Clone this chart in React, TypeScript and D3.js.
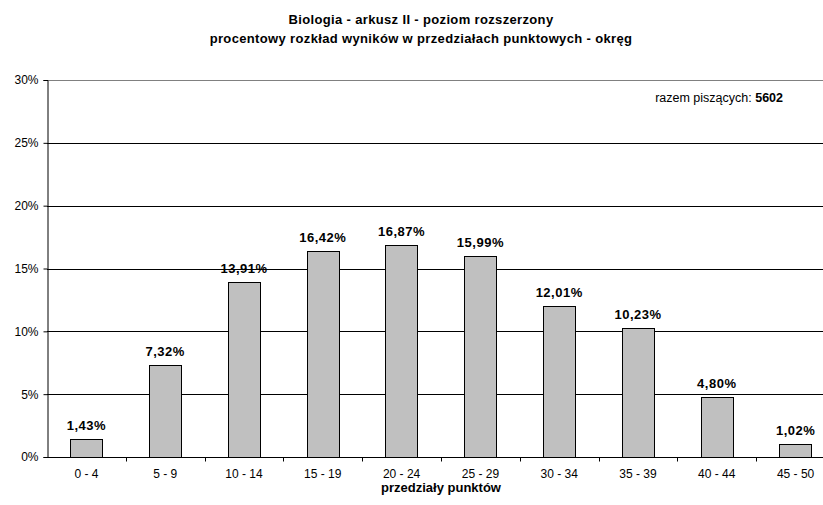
import React, { useRef, useEffect } from "react";
import * as d3 from "d3";

const WIDTH = 823;
const HEIGHT = 505;
const MARGIN = { top: 80, right: -12, bottom: 48, left: 47 };

const categories = ["0 - 4", "5 - 9", "10 - 14", "15 - 19", "20 - 24", "25 - 29", "30 - 34", "35 - 39", "40 - 44", "45 - 50"];
const values = [1.43, 7.32, 13.91, 16.42, 16.87, 15.99, 12.01, 10.23, 4.8, 1.02];
const yTicks = [0, 5, 10, 15, 20, 25, 30];
const titleLines = [
  "Biologia - arkusz II - poziom rozszerzony",
  "procentowy rozkład wyników w przedziałach punktowych - okręg",
];
const FONT = "'Liberation Sans', Arial, sans-serif";

export default function App() {
  const svgRef = useRef<SVGSVGElement | null>(null);

  useEffect(() => {
    const svg = d3.select(svgRef.current);
    svg.selectAll("*").remove();

    const x = d3
      .scaleBand<string>()
      .domain(categories)
      .range([MARGIN.left, WIDTH - MARGIN.right])
      .paddingInner(0.59)
      .paddingOuter(0.295);
    const xOuter = d3
      .scaleBand<string>()
      .domain(categories)
      .range([MARGIN.left, WIDTH - MARGIN.right]);
    const y = d3
      .scaleLinear()
      .domain([0, 30])
      .range([HEIGHT - MARGIN.bottom, MARGIN.top]);

    // title
    svg
      .append("g")
      .selectAll("text")
      .data(titleLines)
      .enter()
      .append("text")
      .attr("x", 421)
      .attr("y", (d, i) => 24 + i * 19)
      .attr("text-anchor", "middle")
      .attr("font-family", FONT)
      .attr("font-weight", "bold")
      .attr("font-size", 13)
      .attr("letter-spacing", 0.35)
      .text((d) => d);

    // gridlines
    svg
      .append("g")
      .selectAll("line")
      .data(yTicks.slice(1))
      .enter()
      .append("line")
      .attr("x1", MARGIN.left)
      .attr("x2", WIDTH)
      .attr("y1", (d) => Math.round(y(d)) + 0.5)
      .attr("y2", (d) => Math.round(y(d)) + 0.5)
      .attr("stroke", (d) => (d === 30 ? "#808080" : "#000"))
      .attr("stroke-width", 1);

    // y axis
    const yAxis = svg
      .append("g")
      .attr("transform", `translate(${MARGIN.left + 0.5},0)`)
      .call(
        d3
          .axisLeft(y)
          .tickValues(yTicks)
          .tickSize(4)
          .tickPadding(5)
          .tickFormat((d) => `${d}%`)
      );
    yAxis.select(".domain").attr("stroke", "#000");
    yAxis.selectAll("text").attr("font-family", FONT).attr("font-size", 12).attr("fill", "#000");

    // x axis
    const xAxis = svg
      .append("g")
      .attr("transform", `translate(0,${Math.round(y(0)) + 0.5})`);
    xAxis
      .append("line")
      .attr("x1", MARGIN.left)
      .attr("x2", WIDTH)
      .attr("stroke", "#000");
    xAxis
      .selectAll(".tick")
      .data(categories.slice(1))
      .enter()
      .append("line")
      .attr("x1", (d) => Math.round(xOuter(d)!) + 0.5)
      .attr("x2", (d) => Math.round(xOuter(d)!) + 0.5)
      .attr("y1", 0)
      .attr("y2", 4)
      .attr("stroke", "#000");
    xAxis
      .selectAll(".lbl")
      .data(categories)
      .enter()
      .append("text")
      .attr("x", (d) => xOuter(d)! + xOuter.bandwidth() / 2)
      .attr("y", 20)
      .attr("text-anchor", "middle")
      .attr("font-family", FONT)
      .attr("font-size", 12)
      .text((d) => d);

    // bars
    svg
      .append("g")
      .selectAll("rect")
      .data(values)
      .enter()
      .append("rect")
      .attr("x", (d, i) => Math.round(x(categories[i])!) + 0.5)
      .attr("y", (d) => Math.round(y(d)) + 0.5)
      .attr("width", Math.round(x.bandwidth()))
      .attr("height", (d) => Math.round(y(0)) - Math.round(y(d)))
      .attr("fill", "#c0c0c0")
      .attr("stroke", "#000")
      .attr("stroke-width", 1);

    // value labels
    svg
      .append("g")
      .selectAll("text")
      .data(values)
      .enter()
      .append("text")
      .attr("x", (d, i) => x(categories[i])! + x.bandwidth() / 2)
      .attr("y", (d) => y(d) - 9)
      .attr("text-anchor", "middle")
      .attr("font-family", FONT)
      .attr("font-weight", "bold")
      .attr("font-size", 13)
      .attr("letter-spacing", 0.5)
      .text((d) => `${d.toFixed(2).replace(".", ",")}%`);

    // axis title
    const [r0, r1] = xOuter.range();
    svg
      .append("text")
      .attr("x", (r0 + r1) / 2)
      .attr("y", 492)
      .attr("text-anchor", "middle")
      .attr("font-family", FONT)
      .attr("font-weight", "bold")
      .attr("font-size", 13)
      .text("przedziały punktów");

    // total
    const total = svg
      .append("text")
      .attr("x", 783)
      .attr("y", 102)
      .attr("text-anchor", "end")
      .attr("font-family", FONT)
      .attr("font-size", 12.5);
    total.append("tspan").text("razem piszących: ");
    total.append("tspan").attr("font-weight", "bold").text("5602");
  }, []);

  return (
    <svg
      ref={svgRef}
      width={WIDTH}
      height={HEIGHT}
      style={{ position: "absolute", left: 0, top: 0, background: "#fff" }}
    />
  );
}
